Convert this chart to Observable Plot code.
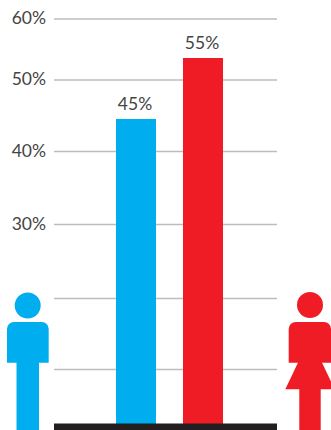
<!DOCTYPE html>
<html>
<head>
<meta charset="utf-8">
<script src="https://cdn.jsdelivr.net/npm/d3@7"></script>
<script src="https://cdn.jsdelivr.net/npm/@observablehq/plot@0.6"></script>
<style>
html,body{margin:0;padding:0;background:#fff;overflow:hidden}
svg{display:block}
</style>
</head>
<body>
<div id="chart"></div>
<script>
const categories = ["Men", "Women"];
const shares = [45, 55];
const colors = ["#00AEEF", "#EF1C25"];
const gridTicks = [10, 20, 30, 40, 50, 60];
const labelTicks = [30, 40, 50, 60];
const rows = categories.map((c, i) => ({category: c, share: shares[i]}));

// The source graphic's axis is not evenly spaced, so y is piecewise linear.
const yDomain = [0, 10, 20, 30, 40, 45, 50, 55, 60];
const yRange = [426.5, 369, 298, 224, 151, 119, 79.5, 58, 18.5];

const svgNS = "http://www.w3.org/2000/svg";
function icon(color, shapes) {
  return () => {
    const g = document.createElementNS(svgNS, "g");
    g.setAttribute("fill", color);
    for (const d of shapes) {
      const p = document.createElementNS(svgNS, "path");
      p.setAttribute("d", d);
      g.appendChild(p);
    }
    return g;
  };
}
const head = (cx, cy, r) => `M${cx - r},${cy}a${r},${r} 0 1,0 ${2 * r},0a${r},${r} 0 1,0 ${-2 * r},0Z`;
const torso = (l, r) => `M${l},362.7V329a7,7 0 0 1 7,-7H${r - 7}a7,7 0 0 1 7,7V362.7Z`;

const chart = Plot.plot({
  width: 331,
  height: 430,
  marginTop: 0,
  marginBottom: 0,
  marginLeft: 54,
  marginRight: 54,
  style: {background: "#fff", fontFamily: "Lato, sans-serif", overflow: "hidden"},
  x: {type: "band", domain: categories, range: [116, 223], paddingInner: 0.403, paddingOuter: 0, axis: null},
  y: {type: "linear", domain: yDomain, range: yRange, axis: null},
  color: {domain: categories, range: colors},
  marks: [
    Plot.ruleY(gridTicks, {stroke: "#bcbcbc", strokeWidth: 1.5}),
    Plot.barY(rows, {x: "category", y: "share", fill: "category"}),
    Plot.ruleY([0], {stroke: "#231F20", strokeWidth: 7}),
    Plot.text(rows, {x: "category", y: "share", text: d => d.share + "%", dy: -15.5, dx: -1.5, fontSize: 17.5, fontWeight: 400, fill: "#444"}),
    Plot.text(labelTicks, {y: d => d, text: d => d + "%", frameAnchor: "left", textAnchor: "end", dx: -8.5, dy: -0.5, fontSize: 17.5, fontWeight: 400, fill: "#444"}),
    icon(colors[0], [head(27.7, 305.5, 13), torso(7, 48.7), "M16.5,362V430H39V362Z"]),
    icon(colors[1], [head(310, 305, 13), torso(288.7, 331), "M298.3,362L285.3,389.3H299.3V430H320.7V389.3H334.7L321.7,362Z"])
  ]
});
document.getElementById("chart").appendChild(chart);
</script>
</body>
</html>
